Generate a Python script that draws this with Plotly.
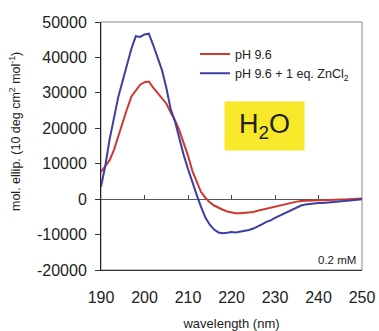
import plotly.graph_objects as go

wavelength = list(range(190, 251))

ph96 = [7700, 9200, 11000, 14000, 18000, 22000, 25500, 29000, 30500, 32300,
        33000, 33200, 31500, 30000, 28500, 27000, 24500, 22300, 19500, 16000,
        12300, 8000, 4700, 2000, 400, -900, -1800, -2500, -3000, -3500,
        -3800, -4000, -4000, -3900, -3700, -3600, -3300, -3000, -2600, -2300,
        -2000, -1700, -1400, -1100, -900, -700, -500, -400, -400, -300,
        -300, -300, -200, -200, -100, -100, -100, 0, 100, 100, 200]

ph96_zn = [3500, 9500, 17000, 23000, 29000, 33500, 38000, 42500, 46000, 45800,
           46500, 46700, 43500, 40000, 36500, 31500, 25500, 22000, 17000, 12500,
           8500, 4500, 1200, -2200, -5200, -7200, -8600, -9400, -9600, -9500,
           -9300, -9400, -9200, -8900, -8700, -8300, -7800, -7100, -6400, -6000,
           -5300, -4700, -4200, -3700, -3000, -2300, -1800, -1500, -1300, -1200,
           -1100, -1100, -1000, -1000, -900, -800, -700, -500, -400, -200, 0]

x_ticks = [190, 200, 210, 220, 230, 240, 250]
y_ticks = [-20000, -10000, 0, 10000, 20000, 30000, 40000, 50000]
y_tick_labels = ["-20000", "-10000", "0", "10000", "20000", "30000", "40000", "50000"]

RED = "#d0382f"
BLUE = "#3b3fa3"
FONT = "Liberation Sans, Arial, sans-serif"

fig = go.Figure()
fig.add_trace(go.Scatter(x=wavelength, y=ph96, mode="lines", name="pH 9.6",
                         line=dict(color=RED, width=2)))
fig.add_trace(go.Scatter(x=wavelength, y=ph96_zn, mode="lines",
                         name="pH 9.6 + 1 eq. ZnCl<sub>2</sub>",
                         line=dict(color=BLUE, width=2)))
# helper trace for the tick marks on the zero line
fig.add_trace(go.Scatter(x=[], y=[], xaxis="x2", showlegend=False, hoverinfo="skip"))

fig.update_layout(
    width=379, height=331,
    margin=dict(l=101, r=17, t=22, b=61),
    paper_bgcolor="white", plot_bgcolor="white",
    font=dict(family=FONT, color="#222"),
    showlegend=True,
    legend=dict(x=0.36, y=0.93, xanchor="left", yanchor="top",
                bgcolor="rgba(0,0,0,0)", font=dict(size=12.5, color="#222"),
                tracegroupgap=0, itemwidth=30),
    xaxis=dict(range=[190, 250], tickvals=x_ticks, ticks="outside", ticklen=13,
               tickcolor="rgba(0,0,0,0)", showgrid=False, zeroline=False,
               showline=True, linecolor="#333", linewidth=1, automargin=False,
               tickfont=dict(size=16, color="#222"),
               title=dict(text="wavelength (nm)", font=dict(size=13, color="#222"), standoff=14)),
    xaxis2=dict(range=[190, 250], overlaying="x", anchor="free", position=2 / 7,
                tickvals=x_ticks[1:-1], ticks="inside", ticklen=4, tickcolor="#444",
                showticklabels=False, showgrid=False, zeroline=False, showline=False,
                automargin=False),
    yaxis=dict(range=[-20000, 50000], tickvals=y_ticks, ticktext=y_tick_labels,
               ticks="outside", ticklen=5, ticklabelstandoff=5, automargin=False,
               tickcolor="#333", showgrid=False, zeroline=True, zerolinecolor="#555",
               zerolinewidth=1, showline=True, linecolor="#222", linewidth=1,
               tickfont=dict(size=16, color="#222")),
    shapes=[dict(type="rect", xref="paper", yref="paper", x0=0, x1=1, y0=0, y1=1,
                 line=dict(color="#888", width=1), layer="below")],
    annotations=[
        dict(text="mol. ellip. (10 deg cm<sup>2</sup> mol<sup>-1</sup>)", textangle=-90,
             xref="paper", yref="paper", x=-0.33, y=0.56, xanchor="center", yanchor="middle",
             showarrow=False, font=dict(size=12.5, color="#222")),
        dict(text="H<sub>2</sub>O", xref="paper", yref="paper", x=0.625, y=0.58,
             xanchor="center", yanchor="middle", showarrow=False, width=77, height=46,
             bgcolor="#f7e92a", font=dict(size=27, color="#222")),
        dict(text="0.2 mM", xref="paper", yref="paper", x=0.985, y=0.01,
             xanchor="right", yanchor="bottom", showarrow=False,
             font=dict(size=11.5, color="#222")),
    ],
)

fig.write_html("out.html")
